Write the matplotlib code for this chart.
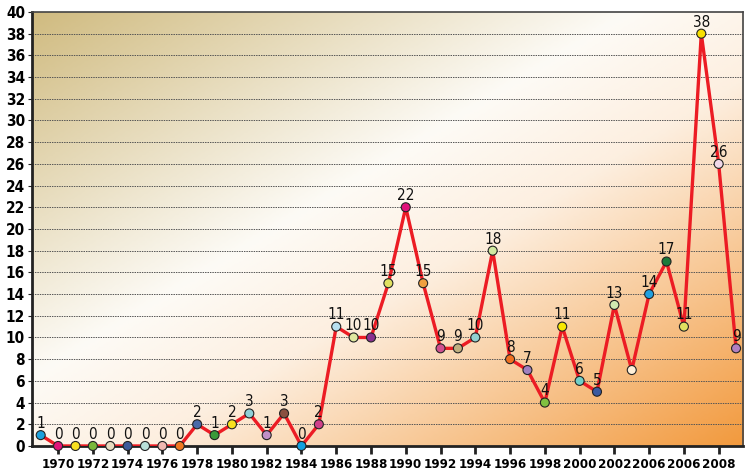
import matplotlib.pyplot as plt
import numpy as np
from matplotlib.colors import LinearSegmentedColormap

years = list(range(1969, 2010))
counts = [1, 0, 0, 0, 0, 0, 0, 0, 0, 2, 1, 2, 3, 1, 3, 0, 2, 11, 10, 10,
          15, 22, 15, 9, 9, 10, 18, 8, 7, 4, 11, 6, 5, 13, 7, 14, 17, 11,
          38, 26, 9]
# 2003 has no value label in the original
show_label = [y != 2003 for y in years]
marker_colors = ['#1ca0dc', '#e0147a', '#f8e020', '#7ab83a', '#e8dcc0',
                 '#3c5a9a', '#b8e0d8', '#f0b8b0', '#f07820', '#4a6aa8',
                 '#3a9a3a', '#f8e020', '#90d0d8', '#c090c8', '#8a5040',
                 '#10a0e0', '#d0408a', '#b8e0f0', '#e0e8a0', '#8a3090',
                 '#e0e060', '#e0107a', '#f0a040', '#d05090', '#c0b080',
                 '#90d0d0', '#d0e8a0', '#f07020', '#a080c0', '#80c040',
                 '#f8e800', '#70d0c8', '#3a5aa0', '#d0e8b0', '#fff0d8',
                 '#20a0e0', '#1a7a3a', '#e0e060', '#f8e000', '#f0d8e8',
                 '#b080c0']
tick_years = list(range(1970, 2010, 2))
tick_labels = ['1970', '1972', '1974', '1976', '1978', '1980', '1982', '1984',
               '1986', '1988', '1990', '1992', '1994', '1996', '1998', '2000',
               '2002', '2006', '2006', '2008']

plt.rcParams['font.family'] = ['DejaVu Sans']
plt.rcParams['font.stretch'] = 'condensed'

fig = plt.figure(figsize=(7.46, 4.75), dpi=100)
ax = fig.add_axes([0.0429, 0.0611, 0.9531, 0.9137])

# diagonal background gradient: tan (top-left) -> white -> orange (bottom-right)
cmap = LinearSegmentedColormap.from_list(
    'bg', [(0.0, '#d0bb80'), (0.42, '#fdfbf6'), (0.58, '#fdefe0'), (1.0, '#f29a3e')])
nx, ny = 300, 200
u = np.linspace(0, 1, nx)[None, :]
v = np.linspace(0, 1, ny)[:, None]
t = (u + v) / 2
ax.imshow(cmap(t), extent=[0, 1, 0, 1], transform=ax.transAxes,
          aspect='auto', zorder=0, interpolation='bilinear')

ax.set_xlim(1968.5, 2009.4)
ax.set_ylim(0, 40)

for yv in range(2, 40, 2):
    ax.axhline(yv, color='#555555', linestyle=(0, (1.5, 1)), linewidth=0.7, zorder=1)

ax.plot(years, counts, color='#ec1c24', linewidth=2.4, zorder=3)
ax.scatter(years, counts, s=42, c=marker_colors, edgecolors='#222222',
           linewidths=0.8, zorder=4, clip_on=False)

for yr, c, show in zip(years, counts, show_label):
    if show:
        ax.annotate(str(c), (yr, c), xytext=(0, 3), textcoords='offset points',
                    ha='center', va='bottom', fontsize=11, color='#111111', zorder=5)

ax.set_xticks(tick_years)
ax.set_xticklabels(tick_labels, fontsize=9.5, fontweight='bold')
ax.set_yticks(range(0, 41, 2))
ax.set_yticklabels([str(v) for v in range(0, 41, 2)], fontsize=11, fontweight='bold')
ax.tick_params(axis='x', length=6, width=2, color='#222222', pad=3)
ax.tick_params(axis='y', length=3, width=0.8, color='#222222', pad=2)

for side in ['left', 'bottom']:
    ax.spines[side].set_linewidth(2)
    ax.spines[side].set_color('#222222')
for side in ['top', 'right']:
    ax.spines[side].set_linewidth(1.2)
    ax.spines[side].set_color('#444444')

fig.savefig('out.png', dpi=100)
